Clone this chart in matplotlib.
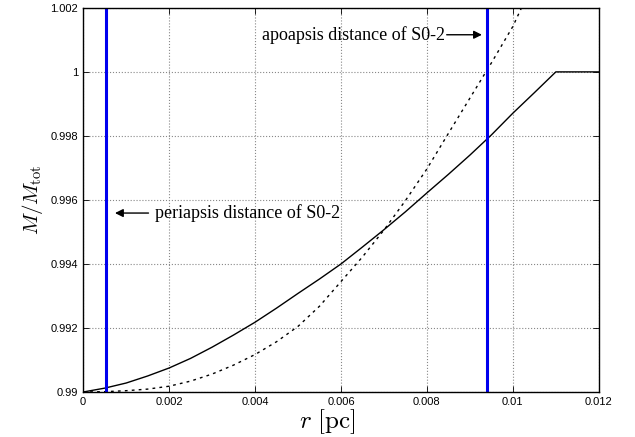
import numpy as np
import matplotlib.pyplot as plt

plt.rcParams['mathtext.fontset'] = 'cm'

# values
r_solid = [0.0, 0.0005, 0.001, 0.0015, 0.002, 0.0025, 0.003, 0.0035, 0.004,
           0.0045, 0.005, 0.0055, 0.006, 0.0065, 0.007, 0.0075, 0.008, 0.0085,
           0.009, 0.0095, 0.010, 0.0105, 0.011, 0.012]
m_solid = [0.99, 0.99012, 0.99028, 0.9905, 0.99075, 0.99105, 0.9914, 0.99178,
           0.99218, 0.99262, 0.99308, 0.99353, 0.994, 0.99453, 0.99507, 0.99563,
           0.99622, 0.9968, 0.9974, 0.99803, 0.99871, 0.99935, 1.0, 1.0]

r_dash = [0.0, 0.0005, 0.001, 0.0015, 0.002, 0.0025, 0.003, 0.0035, 0.004,
          0.0045, 0.005, 0.0055, 0.006, 0.0065, 0.007, 0.0075, 0.008, 0.0085,
          0.009, 0.0095, 0.010, 0.0102]
m_dash = [0.99, 0.99001, 0.99004, 0.99009, 0.99018, 0.99034, 0.99056, 0.99084,
          0.99117, 0.99157, 0.99205, 0.99268, 0.99345, 0.99422, 0.99506, 0.99598,
          0.99697, 0.99808, 0.99918, 1.00028, 1.00142, 1.002]

r_peri = 0.00054
r_apo = 0.0094

fig = plt.figure(figsize=(6.35, 4.37), dpi=100)
ax = fig.add_axes([0.131, 0.103, 0.812, 0.879])

ax.plot(r_solid, m_solid, color='black', lw=1.0)
ax.plot(r_dash, m_dash, color='black', lw=1.0, linestyle=(0, (2, 3)))
ax.axvline(r_peri, color='#0000ee', lw=2.2)
ax.axvline(r_apo, color='#0000ee', lw=2.2)

ax.set_xlim(0, 0.012)
ax.set_ylim(0.99, 1.002)
ax.set_xticks([0, 0.002, 0.004, 0.006, 0.008, 0.01, 0.012])
ax.set_xticklabels(['0', '0.002', '0.004', '0.006', '0.008', '0.01', '0.012'])
ax.set_yticks([0.99, 0.992, 0.994, 0.996, 0.998, 1.0, 1.002])
ax.set_yticklabels(['0.99', '0.992', '0.994', '0.996', '0.998', '1', '1.002'])
ax.tick_params(direction='in', top=True, right=True, length=4, width=0.6,
               labelsize=8)
for lab in ax.get_xticklabels() + ax.get_yticklabels():
    lab.set_family('Liberation Sans')
ax.grid(True, color='#888888', linestyle=':', lw=0.8)
for s in ax.spines.values():
    s.set_linewidth(1.0)

ax.set_xlabel(r'$r\ [\mathrm{pc}]$', fontsize=18)
ax.xaxis.set_label_coords(0.473, -0.04)
ax.set_ylabel(r'$M/M_{\rm tot}$', fontsize=15, labelpad=4)

ax.annotate('', xy=(0.00074, 0.99559), xytext=(0.00152, 0.99559),
            arrowprops=dict(arrowstyle='-|>', color='black', lw=1.0,
                            mutation_scale=12, shrinkA=0, shrinkB=0))
ax.text(0.00167, 0.99559, 'periapsis distance of S0-2', family='Liberation Serif',
        fontsize=13, va='center', ha='left')
ax.annotate('', xy=(0.00928, 1.00116), xytext=(0.00846, 1.00116),
            arrowprops=dict(arrowstyle='-|>', color='black', lw=1.0,
                            mutation_scale=12, shrinkA=0, shrinkB=0))
ax.text(0.00843, 1.00116, 'apoapsis distance of S0-2', family='Liberation Serif',
        fontsize=13, va='center', ha='right')

fig.savefig('out.png', dpi=100)
